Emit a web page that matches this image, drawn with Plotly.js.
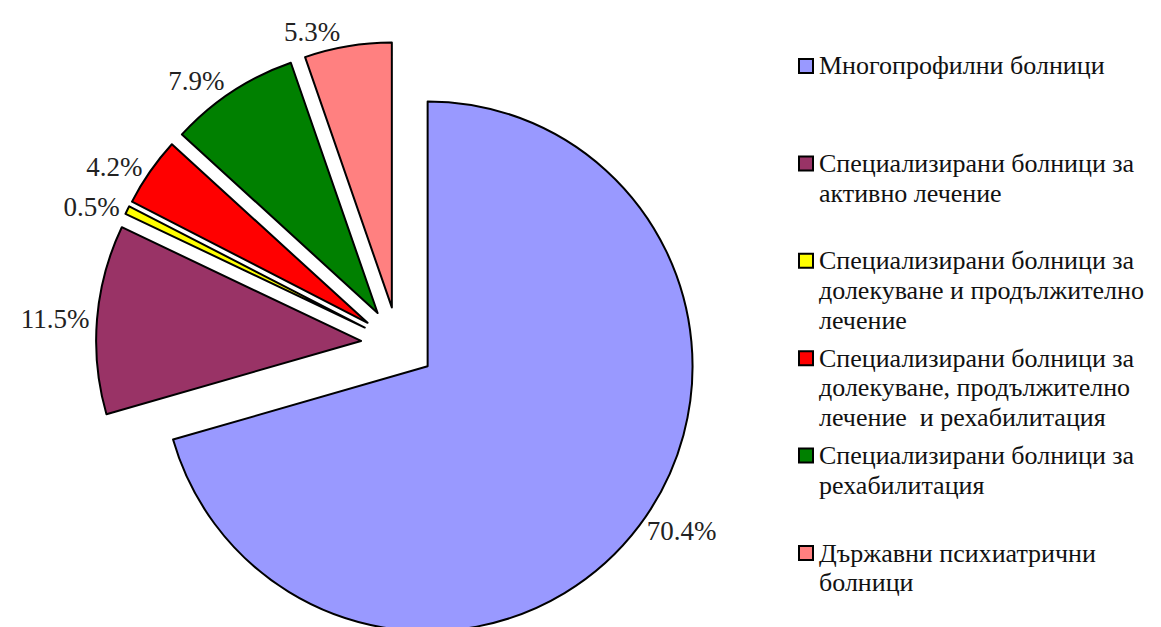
<!DOCTYPE html>
<html><head><meta charset="utf-8">
<script src="https://cdn.plot.ly/plotly-3.0.1.min.js"></script>
<style>html,body{margin:0;padding:0;overflow:hidden;background:#fff}#chart{width:1161px;height:680px}</style>
</head><body><div id="chart"></div>
<script>
// ---- data ----
const categories = [
  "Многопрофилни болници",
  "Специализирани болници за активно лечение",
  "Специализирани болници за долекуване и продължително лечение",
  "Специализирани болници за долекуване, продължително лечение  и рехабилитация",
  "Специализирани болници за рехабилитация",
  "Държавни психиатрични болници"
];
const values = [70.4, 11.5, 0.5, 4.2, 7.9, 5.3];
const colors = ["#9999FF", "#993366", "#FFFF00", "#FF0000", "#008000", "#FF8080"];
const legendLines = [
  ["Многопрофилни болници"],
  ["Специализирани болници за", "активно лечение"],
  ["Специализирани болници за", "долекуване и продължително", "лечение"],
  ["Специализирани болници за", "долекуване, продължително", "лечение  и рехабилитация"],
  ["Специализирани болници за", "рехабилитация"],
  ["Държавни психиатрични", "болници"]
];

// ---- layout constants ----
const W = 1161, H = 680, MT = 42, MB = 34;
const PH = H - MT - MB;
const FONT = "Liberation Serif, Times New Roman, serif";
const py = p => 1 - (p - MT) / PH;   // pixel y -> paper y
const px = p => p / W;               // pixel x -> paper x

const annotations = [];
const shapes = [];
const legTop = 66, entryStep = 97.4, lineStep = 29.7, sw = 14, swX = 799, txtX = 817;
legendLines.forEach((lines, i) => {
  const y0 = legTop + i * entryStep;
  shapes.push({
    type: "rect", xref: "paper", yref: "paper",
    x0: px(swX), x1: px(swX + sw), y0: py(y0 - sw / 2), y1: py(y0 + sw / 2),
    fillcolor: colors[i], line: {color: "#000", width: 2}
  });
  lines.forEach((ln, j) => {
    annotations.push({
      xref: "paper", yref: "paper", x: px(txtX), y: py(y0 + j * lineStep),
      xanchor: "left", yanchor: "middle", showarrow: false, text: ln,
      font: {family: FONT, size: 26, color: "#111"}
    });
  });
});

const trace = {
  type: "pie",
  labels: categories,
  values: values,
  sort: false,
  direction: "clockwise",
  rotation: 0,
  pull: values.map(() => 0.14),
  marker: {colors: colors, line: {color: "#000", width: 2}},
  texttemplate: "%{value:.1f}%",
  textposition: "outside",
  textfont: {family: FONT, size: 27, color: "#222"},
  hoverinfo: "label+value",
  domain: {x: [(398 - PH / 2) / W, (398 + PH / 2) / W], y: [0, 1]}
};

const layout = {
  width: W, height: H,
  margin: {l: 0, r: 0, t: MT, b: MB},
  showlegend: false,
  paper_bgcolor: "#fff",
  annotations: annotations,
  shapes: shapes
};

Plotly.newPlot("chart", [trace], layout, {displayModeBar: false, staticPlot: true});
</script>
</body></html>
